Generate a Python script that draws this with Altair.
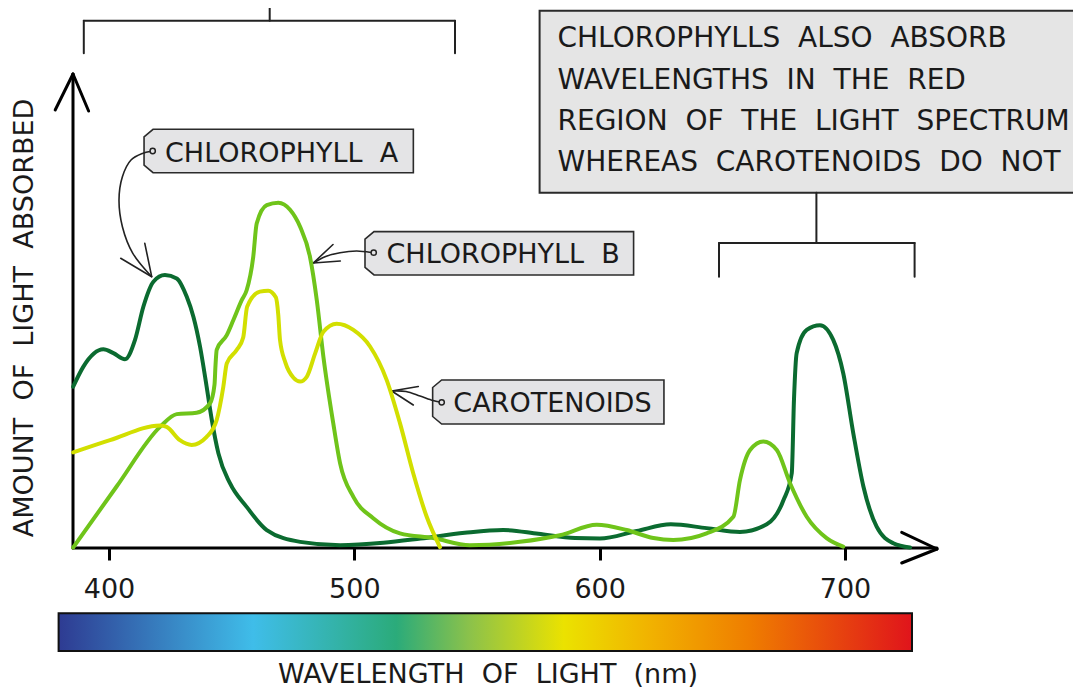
import altair as alt
import pandas as pd

# ---------------- data ----------------
pigments = ["Chlorophyll a", "Chlorophyll b", "Carotenoids"]
pigment_colors = ["#0b6b30", "#6fc41a", "#d2df00"]

chl_a_nm = [385.4, 389.5, 397.7, 401.8, 406.5, 410.6, 414.0, 418.1, 422.8, 427.6,
            431.7, 434.4, 437.1, 439.8, 441.9, 444.6, 449.3, 456.1, 464.3, 477.9,
            494.2, 511.8, 527.0, 545.0, 560.7, 575.0, 590.0, 600.1, 615.1, 629.0,
            643.6, 657.2, 668.1, 674.9, 678.3, 679.2, 680.3, 684.4, 689.8, 695.2,
            699.3, 703.4, 707.5, 712.9, 719.7, 726.5]
chl_a_abs = [34.1, 38.3, 42.0, 41.2, 39.9, 44.0, 51.0, 56.3, 57.7, 57.0,
             53.1, 48.9, 42.6, 34.1, 27.1, 20.0, 13.7, 8.7, 3.8, 1.3,
             0.6, 1.1, 2.0, 3.2, 3.8, 3.0, 2.1, 2.0, 3.6, 5.0,
             4.2, 3.4, 5.0, 10.1, 15.8, 31.3, 41.2, 46.1, 47.1, 44.0,
             36.9, 24.2, 13.0, 4.5, 1.0, 0.1]

chl_b_nm = [385.4, 403.1, 420.8, 427.6, 435.7, 441.2, 443.0, 443.4, 443.9, 448.0,
            450.7, 454.1, 456.1, 458.8, 460.2, 464.3, 469.0, 473.8, 477.9, 481.9,
            484.7, 487.4, 491.4, 494.2, 499.6, 507.7, 518.6, 532.1, 547.1, 567.5,
            583.8, 598.8, 611.0, 621.9, 630.0, 643.6, 654.5, 657.2, 661.3, 666.7,
            672.2, 677.6, 684.4, 692.5, 699.3]
chl_b_abs = [0.1, 13.0, 25.6, 28.3, 28.6, 30.6, 34.5, 38.5, 41.9, 45.0,
             48.2, 52.4, 54.5, 61.6, 68.6, 72.5, 73.0, 71.5, 67.9, 61.6,
             52.4, 40.4, 26.4, 17.9, 10.8, 6.3, 3.1, 2.1, 0.6, 1.3,
             2.7, 4.9, 3.8, 2.1, 1.7, 3.1, 6.6, 14.4, 20.7, 22.5,
             20.7, 13.7, 6.6, 2.1, 0.3]

carot_nm = [385.4, 400.4, 420.8, 423.5, 428.9, 433.7, 439.8, 443.9, 446.6, 448.0,
            452.1, 454.7, 456.3, 461.5, 464.9, 468.0, 469.0, 469.7, 471.9, 475.2,
            477.9, 480.6, 484.0, 487.4, 492.8, 499.6, 506.4, 513.2, 518.6, 524.0,
            529.5, 534.9]
carot_abs = [20.2, 22.8, 25.9, 25.6, 22.8, 21.8, 23.5, 27.1, 34.1, 39.0,
             41.9, 44.5, 51.0, 54.2, 54.4, 53.0, 49.3, 44.0, 39.2, 36.0,
             35.2, 36.2, 41.1, 45.7, 47.4, 46.1, 42.6, 35.5, 26.4, 15.8,
             6.6, 0.2]

tick_values = [400, 500, 600, 700]
x_title_words = ["WAVELENGTH", "OF", "LIGHT", "(nm)"]
y_title_words = ["AMOUNT", "OF", "LIGHT", "ABSORBED"]
note_lines = [["CHLOROPHYLLS", "ALSO", "ABSORB"],
              ["WAVELENGTHS", "IN", "THE", "RED"],
              ["REGION", "OF", "THE", "LIGHT", "SPECTRUM"],
              ["WHEREAS", "CAROTENOIDS", "DO", "NOT"]]
tag_labels = [["CHLOROPHYLL", "A"], ["CHLOROPHYLL", "B"], ["CAROTENOIDS"]]

# ---------------- layout / style ----------------
FONT = "DejaVu Sans"
FS = 27
INK = "#1a1a1a"
OX, OY = 73, 8          # page position of the plot origin
W, H = 1000, 540
GAP = "\u00a0\u00a0"    # wide word gaps (non-collapsing)


def words(ws):
    return GAP.join(ws)


curves = pd.concat([
    pd.DataFrame({"wavelength": chl_a_nm, "absorbance": chl_a_abs, "pigment": pigments[0]}),
    pd.DataFrame({"wavelength": chl_b_nm, "absorbance": chl_b_abs, "pigment": pigments[1]}),
    pd.DataFrame({"wavelength": carot_nm, "absorbance": carot_abs, "pigment": pigments[2]}),
], ignore_index=True)

xscale = alt.Scale(domain=[385.326, 792.935], nice=False, zero=False)
yscale = alt.Scale(domain=[0, 114.165], nice=False, zero=False)

lines = alt.Chart(curves).mark_line(
    strokeWidth=4, interpolate="monotone", strokeCap="round", clip=False
).encode(
    x=alt.X("wavelength:Q", scale=xscale, axis=alt.Axis(
        values=tick_values, format="d", domain=False, grid=False,
        tickSize=12, tickWidth=3, tickColor="black",
        labelFont=FONT, labelFontSize=FS, labelColor=INK, labelPadding=16,
        title=words(x_title_words), titleFont=FONT, titleFontSize=FS,
        titleFontWeight="normal", titleColor=INK, titleX=414.5, titleY=134,
        titleBaseline="alphabetic", titleAlign="center")),
    y=alt.Y("absorbance:Q", scale=yscale, axis=alt.Axis(
        domain=False, grid=False, ticks=False, labels=False,
        title=words(y_title_words), titleFont=FONT, titleFontSize=FS,
        titleFontWeight="normal", titleColor=INK, titleX=-49, titleY=309.5,
        titleAngle=270, titleBaseline="middle", titleAlign="center")),
    color=alt.Color("pigment:N", scale=alt.Scale(domain=pigments, range=pigment_colors),
                    legend=None),
)


def px(col):
    return alt.X(col, type="quantitative", scale=None, axis=None)


def py(col):
    return alt.Y(col, type="quantitative", scale=None, axis=None)


def seg_frame(segs):
    return pd.DataFrame({
        "x": [s[0] - OX for s in segs], "y": [s[1] - OY for s in segs],
        "x2": [s[2] - OX for s in segs], "y2": [s[3] - OY for s in segs],
    })


def rules(segs, width, color):
    return alt.Chart(seg_frame(segs)).mark_rule(
        strokeWidth=width, color=color, strokeCap="round"
    ).encode(x=px("x"), y=py("y"), x2="x2:Q", y2="y2:Q")


# axes with arrows
axis_rules = rules([
    (73, 548, 73, 74), (73, 548, 937, 548),
    (55.2, 110, 73, 74), (88.6, 111, 73, 74),
    (901.7, 532.3, 937, 549), (901.7, 563, 937, 549),
], 3, "black")

# brackets
bracket_rules = rules([
    (83.8, 20.7, 455, 20.7), (83.8, 20.7, 83.8, 53.3), (455, 20.7, 455, 53.3),
    (269.7, 8, 269.7, 20.7),
    (816.4, 192.7, 816.4, 243), (719, 243, 914.6, 243),
    (719, 243, 719, 276.7), (914.6, 243, 914.6, 276.7),
], 2, "#222222")

# callout arrow heads
head_rules = rules([
    (120.7, 258.3, 151.7, 276.7), (144.8, 243.3, 151.7, 276.7),
    (333.0, 244.5, 313.3, 263.0), (340.3, 261.0, 313.3, 263.0),
    (418.3, 386.5, 391.7, 391.0), (413.3, 405.0, 391.7, 391.0),
], 1.6, "#222222")

# callout curves
callout_pts = {
    "a": [(150, 151.5), (143, 153.3), (131, 160), (122.4, 176.7), (119, 200),
          (122.4, 226.7), (132.8, 253.3), (151.7, 276.7)],
    "b": [(371, 252.5), (356.7, 251), (340, 252.7), (325, 256.7), (313.3, 263)],
    "c": [(439.5, 402), (433, 400.5), (420, 396), (406, 391.5), (391.7, 391)],
}
rows = []
for g, pts in callout_pts.items():
    for i, (a, b) in enumerate(pts):
        rows.append({"g": g, "i": i, "x": a - OX, "y": b - OY})
callouts = alt.Chart(pd.DataFrame(rows)).mark_line(
    interpolate="catmull-rom", strokeWidth=1.6, color="#222222"
).encode(x=px("x"), y=py("y"), detail="g:N", order="i:Q")

# spectrum colour bar
spectrum = alt.LinearGradient(
    gradient="linear", x1=0, x2=1, y1=0, y2=0,
    stops=[
        alt.GradientStop(offset=0.0, color="#2e3b92"),
        alt.GradientStop(offset=0.228, color="#3fbde9"),
        alt.GradientStop(offset=0.396, color="#2bab7a"),
        alt.GradientStop(offset=0.482, color="#8cc24a"),
        alt.GradientStop(offset=0.592, color="#ebe200"),
        alt.GradientStop(offset=0.693, color="#f1b200"),
        alt.GradientStop(offset=0.810, color="#ef7d00"),
        alt.GradientStop(offset=1.0, color="#e0141b"),
    ])
bar = alt.Chart(seg_frame([(58.6, 613.3, 912, 651)])).mark_rect(
    fill=spectrum, stroke="#111111", strokeWidth=2
).encode(x=px("x"), y=py("y"), x2="x2:Q", y2="y2:Q")

# note box
note_box = alt.Chart(seg_frame([(539.6, 10.7, 1095, 192.7)])).mark_rect(
    fill="#e5e5e5", stroke="#2a2a2a", strokeWidth=2
).encode(x=px("x"), y=py("y"), x2="x2:Q", y2="y2:Q")


# label tags (chamfered on the left)
def tag_path(w, h, cx=9, cy=7.5):
    hw, hh = w / 2, h / 2
    return (f"M{-hw},{-hh + cy} L{-hw + cx},{-hh} L{hw},{-hh} L{hw},{hh} "
            f"L{-hw + cx},{hh} L{-hw},{hh - cy} Z")


tags = pd.DataFrame({
    "x": [278.7 - OX, 499.3 - OX, 548.3 - OX],
    "y": [151.0 - OY, 253.3 - OY, 402.0 - OY],
    "shape": [tag_path(269.3, 43.4), tag_path(268.6, 43.3), tag_path(231.3, 44.0)],
})
tag_marks = alt.Chart(tags).mark_point(
    size=4, filled=True, fill="#e4e4e6", stroke="#2b2b2b", strokeWidth=1.6, opacity=1
).encode(x=px("x"), y=py("y"), shape=alt.Shape("shape:N", scale=None, legend=None))

rings = alt.Chart(pd.DataFrame({
    "x": [152.7 - OX, 373.7 - OX, 441.7 - OX],
    "y": [151.0 - OY, 252.7 - OY, 402.3 - OY],
})).mark_point(shape="circle", size=28, fill="#e4e4e6", stroke="#222222",
               strokeWidth=1.5, opacity=1).encode(x=px("x"), y=py("y"))

note_text = pd.DataFrame({
    "x": [557.5 - OX] * 4,
    "y": [47 - OY, 88.5 - OY, 129.5 - OY, 170.5 - OY],
    "text": [words(l) for l in note_lines],
})
note_marks = alt.Chart(note_text).mark_text(
    font=FONT, fontSize=28, align="left", baseline="alphabetic", color=INK
).encode(x=px("x"), y=py("y"), text="text:N")

tag_text = pd.DataFrame({
    "x": [165 - OX, 386.5 - OX, 453.3 - OX],
    "y": [161.7 - OY, 262.7 - OY, 411.7 - OY],
    "text": [words(l) for l in tag_labels],
})
tag_text_marks = alt.Chart(tag_text).mark_text(
    font=FONT, fontSize=FS, align="left", baseline="alphabetic", color=INK
).encode(x=px("x"), y=py("y"), text="text:N")

chart = alt.layer(
    bar, note_box, bracket_rules, tag_marks, rings, callouts, head_rules,
    axis_rules, lines, note_marks, tag_text_marks
).properties(
    width=W, height=H,
    padding={"left": 65, "top": 0, "right": 0, "bottom": 142},
    autosize=alt.AutoSizeParams(type="none"),
    background="white",
).configure_view(stroke=None)

chart.save("out.html", embed_options={"renderer": "svg", "actions": False})
